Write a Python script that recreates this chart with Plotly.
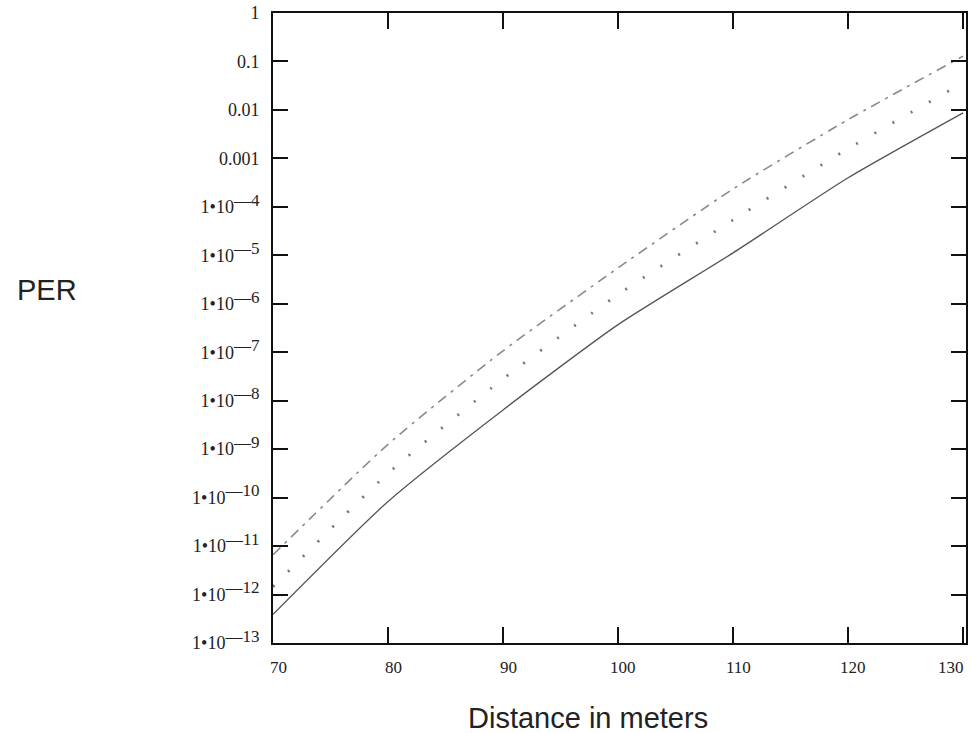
import plotly.graph_objects as go

# Distance in meters
distance = [70, 80, 90, 100, 110, 120, 130]
# log10(PER)
per_solid_exp = [-12.41, -10.08, -8.19, -6.43, -4.95, -3.40, -2.06]
per_dotted_exp = [-11.84, -9.50, -7.55, -5.81, -4.27, -2.80, -1.44]
per_dashed_exp = [-11.18, -8.90, -6.97, -5.26, -3.63, -2.20, -0.89]

x_ticks = [70, 80, 90, 100, 110, 120, 130]
x_tick_text = ["70", "80", "90", "100", "110", "120", "130"]
y_exps = list(range(-13, 1))
y_tick_text = {0: "1", -1: "0.1", -2: "0.01", -3: "0.001"}

yvals = [10.0 ** e for e in y_exps]
ytext = [y_tick_text.get(
    e, "1\u202210<sup><span style='font-size:17px'>\u2014%d</span></sup>" % (-e)) for e in y_exps]

L, R, T, B = 273, 5, 13, 90
W, H = 971, 733
pw, ph = W - L - R, H - T - B

fig = go.Figure()
fig.add_trace(go.Scatter(x=distance, y=[10 ** v for v in per_dashed_exp], mode="lines",
                         line=dict(color="#8a8a8a", width=1.6, dash="10px,6px,3px,6px", shape="spline", smoothing=0.6),
                         showlegend=False))
fig.add_trace(go.Scatter(x=distance, y=[10 ** v for v in per_dotted_exp], mode="lines",
                         line=dict(color="#777777", width=2.8, dash="2px,19px", shape="spline", smoothing=0.6),
                         showlegend=False))
fig.add_trace(go.Scatter(x=distance, y=[10 ** v for v in per_solid_exp], mode="lines",
                         line=dict(color="#555555", width=1.3, shape="spline", smoothing=0.6),
                         showlegend=False))

# x tick labels (drawn as text at the tick positions)
xlabel_annots = []
for i, (xv, txt) in enumerate(zip(x_ticks, x_tick_text)):
    last = i == len(x_ticks) - 1
    xlabel_annots.append(dict(
        text=txt, x=xv, xref="x", y=0, yref="paper", showarrow=False,
        xanchor="right" if last else "center", yanchor="middle",
        xshift=3 if last else 5, yshift=-24,
        font=dict(family="Liberation Serif", size=17, color="#222")))

fig.update_layout(
    width=W, height=H,
    margin=dict(l=L, r=R, t=T, b=B),
    paper_bgcolor="white", plot_bgcolor="white",
    xaxis=dict(range=[70, 130.25], tickvals=x_ticks, showticklabels=False,
               ticks="inside", ticklen=16, tickwidth=2, tickcolor="#111",
               showline=True, linecolor="#111", linewidth=2, mirror="allticks",
               showgrid=False, zeroline=False, automargin=False),
    yaxis=dict(type="log", range=[-13, 0], tickvals=yvals, ticktext=ytext,
               ticks="inside", ticklen=15, tickwidth=2, tickcolor="#111",
               showline=True, linecolor="#111", linewidth=2, mirror="allticks",
               showgrid=False, zeroline=False, automargin=False,
               ticklabeloverflow="allow", ticklabelstandoff=8,
               tickfont=dict(family="Liberation Serif", size=18, color="#222")),
    annotations=xlabel_annots + [
        dict(text="PER", x=(47 - L) / pw, y=(H - B - 290) / ph, xref="paper", yref="paper",
             xanchor="center", yanchor="middle", showarrow=False,
             font=dict(family="Liberation Sans", size=29, color="#222")),
        dict(text="Distance in meters", x=(588 - L) / pw, y=0, xref="paper", yref="paper",
             xanchor="center", yanchor="middle", yshift=-(718 - (H - B)), showarrow=False,
             font=dict(family="Liberation Sans", size=29, color="#222")),
    ],
)

fig.write_html("out.html", config={"displayModeBar": False},
               post_script="document.body.style.margin='0';document.body.style.overflow='hidden';")
